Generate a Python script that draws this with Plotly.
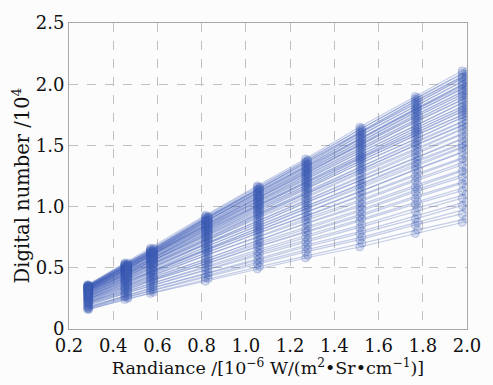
import plotly.graph_objects as go

# Radiance levels of the two measurement sets (10^-6 W/(m^2·Sr·cm^-1))
radiance_a = [0.284, 0.452, 0.568, 0.817, 1.052, 1.270, 1.515, 1.766, 1.978]
radiance_b = [0.290, 0.466, 0.582, 0.830, 1.062, 1.280, 1.525, 1.776, 1.996]

# Detector responses (digital number / 10^4) measured at radiance_a
dn_rows_a = [
    [0.36, 0.54, 0.66, 0.93, 1.17, 1.39, 1.65, 1.90, 2.11],
    [0.36, 0.53, 0.65, 0.92, 1.16, 1.37, 1.63, 1.88, 2.09],
    [0.35, 0.53, 0.64, 0.91, 1.14, 1.36, 1.61, 1.86, 2.06],
    [0.35, 0.52, 0.64, 0.90, 1.14, 1.35, 1.60, 1.84, 2.05],
    [0.35, 0.52, 0.63, 0.89, 1.12, 1.33, 1.58, 1.82, 2.02],
    [0.34, 0.51, 0.63, 0.88, 1.11, 1.32, 1.56, 1.80, 2.00],
    [0.34, 0.51, 0.62, 0.88, 1.10, 1.31, 1.55, 1.79, 1.99],
    [0.34, 0.50, 0.62, 0.86, 1.09, 1.29, 1.53, 1.77, 1.96],
    [0.33, 0.50, 0.61, 0.85, 1.07, 1.28, 1.51, 1.74, 1.94],
    [0.33, 0.49, 0.60, 0.85, 1.07, 1.27, 1.50, 1.73, 1.92],
    [0.33, 0.49, 0.60, 0.84, 1.05, 1.25, 1.48, 1.71, 1.90],
    [0.32, 0.48, 0.59, 0.83, 1.04, 1.24, 1.46, 1.69, 1.87],
    [0.32, 0.48, 0.58, 0.82, 1.03, 1.22, 1.44, 1.66, 1.85],
    [0.31, 0.47, 0.57, 0.81, 1.01, 1.20, 1.42, 1.64, 1.82],
    [0.31, 0.46, 0.57, 0.80, 1.00, 1.19, 1.40, 1.62, 1.80],
    [0.31, 0.46, 0.56, 0.78, 0.99, 1.17, 1.39, 1.60, 1.78],
    [0.30, 0.45, 0.55, 0.77, 0.97, 1.16, 1.37, 1.58, 1.75],
    [0.30, 0.45, 0.55, 0.76, 0.96, 1.14, 1.35, 1.55, 1.73],
    [0.29, 0.44, 0.53, 0.75, 0.94, 1.11, 1.32, 1.52, 1.69],
    [0.29, 0.43, 0.53, 0.74, 0.93, 1.10, 1.30, 1.50, 1.66],
    [0.28, 0.42, 0.52, 0.72, 0.90, 1.07, 1.27, 1.46, 1.63],
    [0.28, 0.41, 0.50, 0.70, 0.88, 1.05, 1.24, 1.43, 1.59],
    [0.27, 0.40, 0.49, 0.69, 0.86, 1.03, 1.21, 1.40, 1.55],
    [0.26, 0.40, 0.48, 0.67, 0.84, 1.00, 1.18, 1.36, 1.51],
    [0.26, 0.39, 0.47, 0.65, 0.82, 0.98, 1.15, 1.33, 1.48],
    [0.25, 0.38, 0.46, 0.64, 0.80, 0.95, 1.12, 1.30, 1.44],
    [0.24, 0.37, 0.45, 0.62, 0.78, 0.92, 1.08, 1.25, 1.39],
    [0.24, 0.35, 0.43, 0.60, 0.75, 0.89, 1.04, 1.21, 1.34],
    [0.23, 0.34, 0.42, 0.57, 0.72, 0.86, 1.00, 1.16, 1.29],
    [0.22, 0.33, 0.40, 0.55, 0.69, 0.82, 0.96, 1.12, 1.24],
    [0.21, 0.32, 0.39, 0.53, 0.67, 0.79, 0.92, 1.07, 1.19],
    [0.20, 0.30, 0.37, 0.50, 0.63, 0.75, 0.88, 1.02, 1.13],
    [0.19, 0.29, 0.35, 0.48, 0.60, 0.71, 0.83, 0.96, 1.07],
    [0.18, 0.27, 0.33, 0.45, 0.56, 0.67, 0.78, 0.90, 1.01],
    [0.17, 0.26, 0.31, 0.42, 0.53, 0.63, 0.73, 0.85, 0.94],
    [0.16, 0.24, 0.29, 0.39, 0.49, 0.58, 0.67, 0.78, 0.87],
]

# Detector responses (digital number / 10^4) measured at radiance_b
dn_rows_b = [
    [0.36, 0.54, 0.66, 0.92, 1.16, 1.38, 1.64, 1.89, 2.10],
    [0.35, 0.53, 0.65, 0.91, 1.15, 1.37, 1.62, 1.87, 2.08],
    [0.35, 0.52, 0.64, 0.91, 1.14, 1.35, 1.61, 1.85, 2.06],
    [0.35, 0.52, 0.63, 0.89, 1.13, 1.34, 1.59, 1.83, 2.04],
    [0.34, 0.52, 0.63, 0.89, 1.12, 1.33, 1.57, 1.81, 2.01],
    [0.34, 0.51, 0.62, 0.88, 1.10, 1.31, 1.56, 1.80, 1.99],
    [0.34, 0.50, 0.62, 0.87, 1.09, 1.30, 1.54, 1.78, 1.98],
    [0.33, 0.50, 0.61, 0.86, 1.08, 1.28, 1.52, 1.76, 1.95],
    [0.33, 0.49, 0.61, 0.85, 1.07, 1.27, 1.51, 1.74, 1.93],
    [0.33, 0.49, 0.60, 0.84, 1.06, 1.26, 1.49, 1.72, 1.91],
    [0.32, 0.48, 0.59, 0.83, 1.05, 1.24, 1.47, 1.70, 1.89],
    [0.32, 0.48, 0.58, 0.82, 1.03, 1.23, 1.45, 1.67, 1.86],
    [0.32, 0.47, 0.58, 0.81, 1.02, 1.21, 1.43, 1.65, 1.83],
    [0.31, 0.46, 0.57, 0.80, 1.01, 1.20, 1.41, 1.63, 1.81],
    [0.31, 0.46, 0.56, 0.79, 0.99, 1.18, 1.40, 1.61, 1.79],
    [0.30, 0.45, 0.56, 0.78, 0.98, 1.16, 1.38, 1.59, 1.76],
    [0.30, 0.45, 0.55, 0.77, 0.96, 1.15, 1.36, 1.56, 1.74],
    [0.29, 0.44, 0.54, 0.75, 0.95, 1.13, 1.33, 1.54, 1.71],
    [0.29, 0.43, 0.53, 0.74, 0.93, 1.11, 1.31, 1.51, 1.68],
    [0.28, 0.43, 0.52, 0.73, 0.92, 1.09, 1.29, 1.48, 1.65],
    [0.28, 0.42, 0.51, 0.71, 0.89, 1.06, 1.25, 1.45, 1.61],
    [0.27, 0.41, 0.50, 0.70, 0.87, 1.04, 1.22, 1.41, 1.57],
    [0.27, 0.40, 0.48, 0.68, 0.85, 1.01, 1.19, 1.38, 1.53],
    [0.26, 0.39, 0.48, 0.66, 0.83, 0.99, 1.17, 1.35, 1.50],
    [0.25, 0.38, 0.47, 0.65, 0.81, 0.96, 1.13, 1.31, 1.46],
    [0.25, 0.37, 0.45, 0.63, 0.79, 0.93, 1.10, 1.27, 1.41],
    [0.24, 0.36, 0.44, 0.61, 0.76, 0.91, 1.06, 1.23, 1.37],
    [0.23, 0.35, 0.42, 0.58, 0.73, 0.87, 1.02, 1.18, 1.31],
    [0.22, 0.34, 0.41, 0.56, 0.71, 0.84, 0.98, 1.14, 1.27],
    [0.22, 0.32, 0.40, 0.54, 0.68, 0.80, 0.94, 1.09, 1.21],
    [0.21, 0.31, 0.38, 0.52, 0.65, 0.77, 0.90, 1.04, 1.16],
    [0.20, 0.30, 0.36, 0.49, 0.62, 0.73, 0.85, 0.99, 1.10],
    [0.18, 0.28, 0.34, 0.46, 0.58, 0.69, 0.80, 0.93, 1.04],
    [0.17, 0.26, 0.32, 0.44, 0.55, 0.65, 0.75, 0.87, 0.98],
    [0.16, 0.25, 0.30, 0.41, 0.51, 0.60, 0.70, 0.81, 0.90],
]

x_ticks = [0.2, 0.4, 0.6, 0.8, 1.0, 1.2, 1.4, 1.6, 1.8, 2.0]
x_tick_text = ["0.2", "0.4", "0.6", "0.8", "1.0", "1.2", "1.4", "1.6", "1.8", "2.0"]
y_ticks = [0, 0.5, 1.0, 1.5, 2.0, 2.5]
y_tick_text = ["0", "0.5", "1.0", "1.5", "2.0", "2.5"]

LINE_RGBA = "rgba(52,84,180,0.28)"
MARKER_FILL = "rgba(70,98,185,0.20)"
MARKER_EDGE = "rgba(55,85,175,0.22)"
FONT = "DejaVu Serif"
TEXT = "#111111"

fig = go.Figure()
for xs, rows in ((radiance_a, dn_rows_a), (radiance_b, dn_rows_b)):
    for row in rows:
        fig.add_trace(go.Scatter(
            x=xs, y=row, mode="lines+markers",
            line=dict(color=LINE_RGBA, width=1.25),
            marker=dict(symbol="circle", size=8, color=MARKER_FILL,
                        line=dict(color=MARKER_EDGE, width=1)),
            showlegend=False, hoverinfo="skip",
        ))

axis_common = dict(
    showgrid=True, gridcolor="#c0c0c0", griddash="dash", gridwidth=1,
    showline=True, linecolor="#a8a8a8", linewidth=1, mirror=True,
    ticks="", zeroline=False,
    tickfont=dict(family=FONT, size=18, color=TEXT),
)

fig.update_layout(
    width=493, height=385,
    margin=dict(l=69, r=15, t=14, b=56),
    paper_bgcolor="#fcfcfc", plot_bgcolor="#fcfcfc",
    font=dict(family=FONT, color=TEXT),
    xaxis=dict(range=[0.2, 2.0], tickvals=x_ticks, ticktext=x_tick_text,
               title=dict(text="Randiance /[10<sup>−6</sup> W/(m<sup>2</sup>•Sr•cm<sup>−1</sup>)]",
                          font=dict(family=FONT, size=17.5, color=TEXT), standoff=5),
               **axis_common),
    yaxis=dict(range=[0, 2.5], tickvals=y_ticks, ticktext=y_tick_text,
               **axis_common),
    annotations=[dict(
        text="Digital number /10<sup>4</sup>", textangle=-90,
        xref="paper", yref="paper", x=-0.12, y=0.47,
        xanchor="center", yanchor="middle", showarrow=False,
        font=dict(family=FONT, size=19.5, color=TEXT),
    )],
)

fig.write_html("out.html")
